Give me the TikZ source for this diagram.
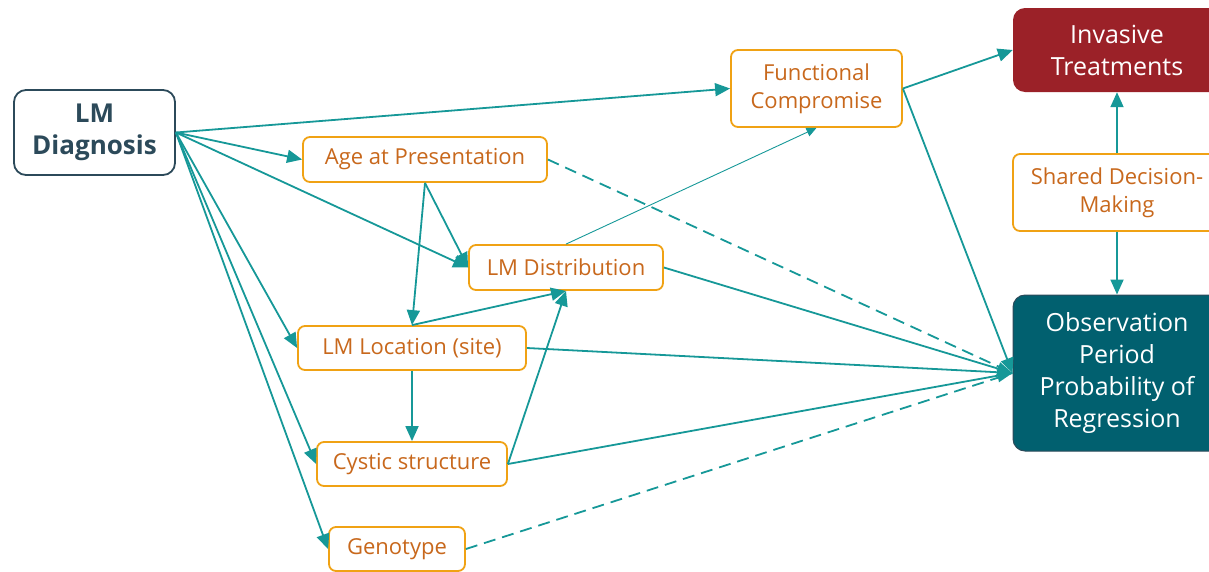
\documentclass[tikz,border=0pt]{standalone}
\usepackage{fontspec}
\setmainfont{Open Sans}
\usetikzlibrary{arrows.meta,positioning}
\definecolor{linkteal}{RGB}{22,152,152}
\definecolor{boxorange}{RGB}{240,162,20}
\definecolor{textorange}{RGB}{200,104,28}
\definecolor{slateblue}{RGB}{44,74,90}
\definecolor{wine}{RGB}{155,33,40}
\definecolor{deepteal}{RGB}{1,96,111}

\begin{document}
\begin{tikzpicture}[
    x=1pt, y=-1pt,
    factor/.style={rectangle, draw=boxorange, line width=1.8pt, rounded corners=7pt, fill=white, text=textorange, align=center, inner sep=0pt, font=\fontsize{22}{28}\selectfont},
    outcome/.style={rectangle, rounded corners=12pt, text=white, align=center, inner sep=0pt, minimum width=208pt, font=\fontsize{25}{32}\selectfont},
    arrow/.style={-{Triangle[length=15pt,width=13pt]}, draw=linkteal, line width=1.8pt},
    thinarrow/.style={-{Triangle[length=10pt,width=9pt]}, draw=linkteal, line width=0.9pt},
    dasharrow/.style={draw=linkteal, line width=1.8pt, dash pattern=on 12pt off 7pt}
]
\useasboundingbox (0,0) rectangle (1209,571);

\node[rectangle, draw=slateblue, line width=1.8pt, rounded corners=12pt, fill=white, text=slateblue, align=center, inner sep=0pt, minimum width=161pt, minimum height=85pt, font=\fontsize{26}{32}\selectfont\bfseries] (diag) at (94.5,132.5) {LM\\Diagnosis};

\node[factor, minimum width=244pt, minimum height=45pt] (age) at (425,159.5) {Age at Presentation};
\node[factor, minimum width=194pt, minimum height=45pt] (dist) at (566,267.5) {LM Distribution};
\node[factor, minimum width=228pt, minimum height=44pt] (loc) at (412,348) {LM Location (site)};
\node[factor, minimum width=190pt, minimum height=44pt] (cyst) at (412,464) {Cystic structure};
\node[factor, minimum width=136pt, minimum height=44pt] (geno) at (397,549) {Genotype};
\node[factor, minimum width=171pt, minimum height=77pt] (func) at (816.5,88.5) {Functional\\Compromise};
\node[factor, minimum width=208pt, minimum height=77pt] (sdm) at (1117,192.5) {Shared Decision-\\Making};

\node[outcome, fill=wine, minimum height=84pt] (inv) at (1117,50) {Invasive\\Treatments};
\node[outcome, fill=deepteal, draw=slateblue, line width=1pt, minimum height=156pt] (obs) at (1117,373) {Observation\\Period\\Probability of\\Regression};

% from the diagnosis
\draw[arrow] (diag.east) -- (func.west);
\draw[arrow] (diag.east) -- (age.west);
\draw[arrow] (diag.east) -- (dist.west);
\draw[arrow] (diag.east) -- (loc.west);
\draw[arrow] (diag.east) -- (cyst.west);
\draw[arrow] (diag.east) -- (geno.west);

% between factors
\draw[arrow] (age.south) -- (dist.west);
\draw[arrow] (age.south) -- (loc.north);
\draw[arrow] (loc.north) -- (dist.south);
\draw[arrow] (cyst.east) -- (dist.south);
\draw[arrow] (loc.south) -- (cyst.north);
\draw[thinarrow] (dist.north) -- (func.south);

% towards the outcomes
\draw[dasharrow] (age.east) -- (obs.west);
\draw[dasharrow] (geno.east) -- (obs.west);
\draw[arrow] (dist.east) -- (obs.west);
\draw[arrow] (loc.east) -- (obs.west);
\draw[arrow] (cyst.east) -- (obs.west);
\draw[arrow] (func.east) -- (obs.west);
\draw[arrow] (func.east) -- (inv.west);
\draw[arrow] (sdm.north) -- (inv.south);
\draw[arrow] (sdm.south) -- (obs.north);
\end{tikzpicture}
\end{document}
